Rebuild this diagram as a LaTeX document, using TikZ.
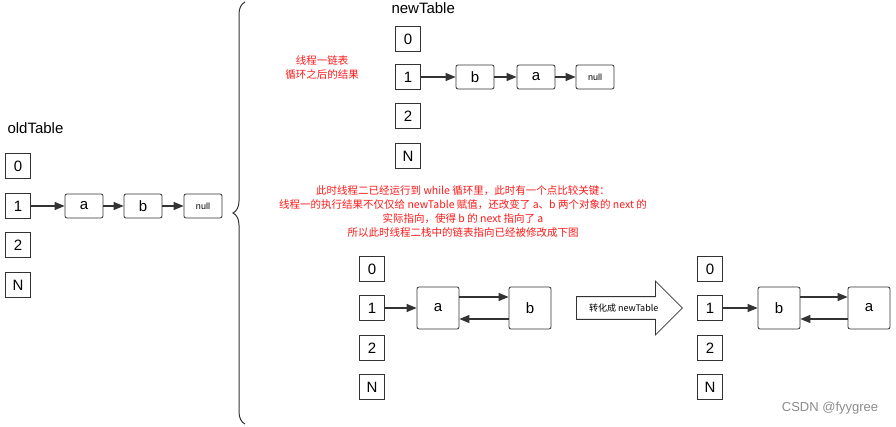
\documentclass[tikz,border=0pt]{standalone}
\usepackage{fontspec}
\setmainfont{Liberation Sans}
\newfontfamily\cjk{Noto Sans CJK SC}
\usetikzlibrary{arrows.meta,shapes.arrows,decorations.pathreplacing}
\begin{document}
\begin{tikzpicture}[x=1pt,y=-1pt,
  cell/.style={draw=black!80,line width=0.8pt,minimum width=25pt,minimum height=25pt,inner sep=0,font=\fontsize{15}{15}\selectfont},
  nd/.style={draw=black!80,line width=0.8pt,rounded corners=2pt,minimum width=38pt,minimum height=24pt,inner sep=0,font=\fontsize{15}{15}\selectfont},
  bnd/.style={nd,minimum width=42pt,minimum height=42pt},
  nul/.style={nd,font=\fontsize{9}{9}\selectfont},
  ar/.style={-{Triangle[length=10pt,width=8pt]},draw=black!80,line width=1.2pt},
  red/.style={text=red!90!white,font=\cjk\fontsize{10.5}{14}\selectfont,align=center}]
\useasboundingbox (0,0) rectangle (896,427);
\fill[white] (0,0) rectangle (896,427);
% old table
\node[anchor=west,font=\fontsize{15}{15}\selectfont] (ol) at (4,128) {oldTable};
\node[cell] (o0) at (18,166) {0};
\node[cell] (o1) at (18,206) {1};
\node[cell] (o2) at (18,245) {2};
\node[cell] (oN) at (18,285) {N};
\node[nd] (oa) at (84,206) {a};
\node[nd] (ob) at (143,206) {b};
\node[nul] (on) at (203,206) {null};
\draw[ar] (o1) -- (oa); \draw[ar] (oa) -- (ob); \draw[ar] (ob) -- (on);
% brace
\draw[black!80,line width=1pt,decorate,decoration={brace,amplitude=12pt,aspect=0.5}] (245,424) -- (245,2);
% new table
\node[anchor=west,font=\fontsize{15}{15}\selectfont] (nl) at (388,8) {newTable};
\node[cell] (n0) at (408,39) {0};
\node[cell] (n1) at (408,77) {1};
\node[cell] (n2) at (408,116) {2};
\node[cell] (nN) at (408,156) {N};
\node[nd] (nb) at (475,77) {b};
\node[nd] (na) at (536,77) {a};
\node[nul] (nn) at (595,77) {null};
\draw[ar] (n1) -- (nb); \draw[ar] (nb) -- (na); \draw[ar] (na) -- (nn);
\node[red] (t1) at (322,68) {线程一链表\\循环之后的结果};
\node[red] (t2) at (463,212) {此时线程二已经运行到 while 循环里，此时有一个点比较关键：\\线程一的执行结果不仅仅给 newTable 赋值，还改变了 a、b 两个对象的 next 的\\实际指向，使得 b 的 next 指向了 a\\所以此时线程二栈中的链表指向已经被修改成下图};
% bottom left
\node[cell] (l0) at (372,269) {0};
\node[cell] (l1) at (372,308) {1};
\node[cell] (l2) at (372,348) {2};
\node[cell] (lN) at (372,387) {N};
\node[bnd] (la) at (438,308) {a};
\node[bnd] (lb) at (530,308) {b};
\draw[ar] (l1) -- (la);
\draw[ar] ([yshift=11pt]la.east) -- ([yshift=11pt]lb.west);
\draw[ar] ([yshift=-11pt]lb.west) -- ([yshift=-11pt]la.east);
% big arrow
\node[single arrow,draw=black!80,line width=0.8pt,minimum height=106pt,minimum width=54pt,single arrow head extend=9pt,inner sep=2pt,anchor=west,font=\cjk\fontsize{9}{9}\selectfont] (big) at (576,308) {转化成 newTable\hspace{10pt}};
% bottom right
\node[cell] (r0) at (710,269) {0};
\node[cell] (r1) at (710,308) {1};
\node[cell] (r2) at (710,348) {2};
\node[cell] (rN) at (710,387) {N};
\node[bnd] (rb) at (779,308) {b};
\node[bnd] (ra) at (869,308) {a};
\draw[ar] (r1) -- (rb);
\draw[ar] ([yshift=11pt]rb.east) -- ([yshift=11pt]ra.west);
\draw[ar] ([yshift=-11pt]ra.west) -- ([yshift=-11pt]rb.east);
\node[text=black!45,font=\fontsize{13}{13}\selectfont] (wm) at (830,408) {CSDN @fyygree};
\end{tikzpicture}
\end{document}
